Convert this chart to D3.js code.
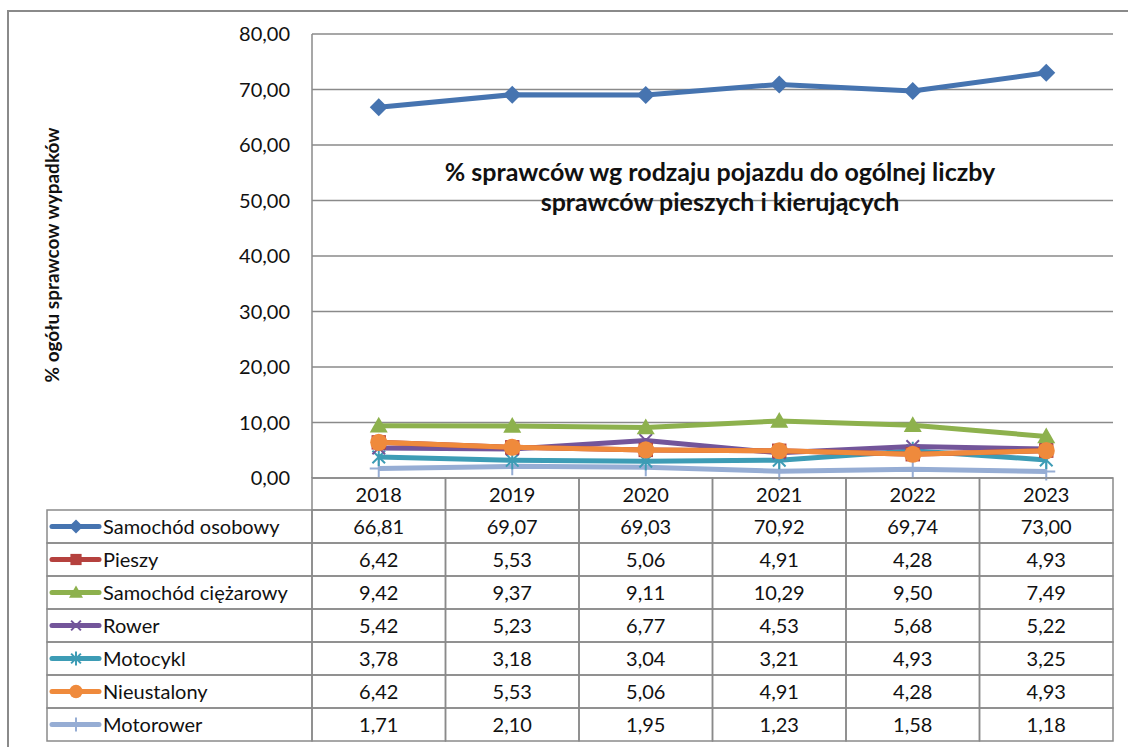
<!DOCTYPE html>
<head>
  <meta charset="utf-8">
  <script src="https://d3js.org/d3.v7.min.js"></script>
  <style>
    body { margin: 0; background: #fff; font-family: Lato, "Open Sans", sans-serif; }
    .grid line { stroke: #8a8a8a; stroke-width: 1.5px; }
    .cell { fill: none; stroke: #8a8a8a; stroke-width: 1.5px; }
    .val { font-size: 20px; fill: #111; }
  </style>
</head>
<body>
  <div id="vis"></div>
  <script>
    // ---- data ----
    var years = ["2018", "2019", "2020", "2021", "2022", "2023"];
    var seriesNames = ["Samochód osobowy", "Pieszy", "Samochód ciężarowy", "Rower", "Motocykl", "Nieustalony", "Motorower"];
    var osobowy = [66.81, 69.07, 69.03, 70.92, 69.74, 73.00];
    var pieszy = [6.42, 5.53, 5.06, 4.91, 4.28, 4.93];
    var ciezarowy = [9.42, 9.37, 9.11, 10.29, 9.50, 7.49];
    var rower = [5.42, 5.23, 6.77, 4.53, 5.68, 5.22];
    var motocykl = [3.78, 3.18, 3.04, 3.21, 4.93, 3.25];
    var nieustalony = [6.42, 5.53, 5.06, 4.91, 4.28, 4.93];
    var motorower = [1.71, 2.10, 1.95, 1.23, 1.58, 1.18];
    var yTicks = [0, 10, 20, 30, 40, 50, 60, 70, 80];

    var colors = ["#4674b0", "#b5413e", "#8db14d", "#73559a", "#3d9cb5", "#ef8a3c", "#96add4"];
    var markers = ["diamond", "square", "triangle", "x", "asterisk", "circle", "plus"];
    var allValues = [osobowy, pieszy, ciezarowy, rower, motocykl, nieustalony, motorower];

    var series = seriesNames.map(function (n, i) {
      return { name: n, values: allValues[i], color: colors[i], marker: markers[i] };
    });

    var fmt = function (v) { return v.toFixed(2).replace(".", ","); };

    var width = 1128, height = 747;
    var plot = { left: 312, right: 1113, top: 34, bottom: 478 };
    var tableLeft = 47, rowH = 33;

    var svg = d3.select("#vis").append("svg")
      .attr("width", width)
      .attr("height", height);

    // outer frame
    svg.append("rect")
      .attr("x", 8).attr("y", 11)
      .attr("width", 1130).attr("height", 750)
      .attr("fill", "none")
      .attr("stroke", "#8a8a8a")
      .attr("stroke-width", 2);

    var x = d3.scaleBand()
      .domain(years)
      .range([plot.left, plot.right]);

    var y = d3.scaleLinear()
      .domain([0, 80])
      .range([plot.bottom, plot.top]);

    // gridlines
    svg.append("g")
      .attr("class", "grid")
      .selectAll("line")
      .data(yTicks)
      .enter().append("line")
      .attr("x1", plot.left).attr("x2", plot.right)
      .attr("y1", function (d) { return y(d); })
      .attr("y2", function (d) { return y(d); });

    // y axis line
    svg.append("line")
      .attr("x1", plot.left).attr("x2", plot.left)
      .attr("y1", plot.top).attr("y2", plot.bottom)
      .attr("stroke", "#8a8a8a").attr("stroke-width", 1.5);

    // y tick labels
    svg.append("g")
      .selectAll("text")
      .data(yTicks)
      .enter().append("text")
      .attr("class", "val")
      .attr("x", 290)
      .attr("y", function (d) { return y(d); })
      .attr("dy", "0.35em")
      .attr("text-anchor", "end")
      .text(fmt);

    // y axis title
    svg.append("text")
      .attr("transform", "translate(59,255) rotate(-90)")
      .attr("text-anchor", "middle")
      .attr("font-weight", "bold")
      .attr("font-size", 19)
      .attr("fill", "#111")
      .text("% ogółu  sprawcow wypadków");

    // chart title
    var title = svg.append("text")
      .attr("text-anchor", "middle")
      .attr("font-weight", "bold")
      .attr("font-size", 25)
      .attr("fill", "#111");
    title.append("tspan").attr("x", 720).attr("y", 181)
      .text("% sprawców wg rodzaju pojazdu do ogólnej liczby");
    title.append("tspan").attr("x", 720).attr("y", 211)
      .text("sprawców pieszych i kierujących");

    // ---- markers ----
    function drawMarker(g, type, color, size) {
      var s = size;
      if (type === "diamond") {
        g.append("path").attr("d", "M0," + (-s) + "L" + s + ",0L0," + s + "L" + (-s) + ",0Z").attr("fill", color);
      } else if (type === "square") {
        g.append("rect").attr("x", -s * 0.8).attr("y", -s * 0.8).attr("width", s * 1.6).attr("height", s * 1.6).attr("fill", color);
      } else if (type === "triangle") {
        g.append("path").attr("d", "M0," + (-s) + "L" + s + "," + (s * 0.75) + "L" + (-s) + "," + (s * 0.75) + "Z").attr("fill", color);
      } else if (type === "circle") {
        g.append("circle").attr("r", s * 0.95).attr("fill", color);
      } else if (type === "x") {
        var a = s * 0.7;
        g.append("path").attr("d", "M" + (-a) + "," + (-a) + "L" + a + "," + a + "M" + a + "," + (-a) + "L" + (-a) + "," + a)
          .attr("stroke", color).attr("stroke-width", 2);
      } else if (type === "asterisk") {
        var b = s * 0.7;
        g.append("path").attr("d", "M" + (-b) + "," + (-b) + "L" + b + "," + b + "M" + b + "," + (-b) + "L" + (-b) + "," + b + "M0," + (-s) + "L0," + s)
          .attr("stroke", color).attr("stroke-width", 2);
      } else if (type === "plus") {
        g.append("path").attr("d", "M0," + (-s) + "L0," + s + "M" + (-s) + ",0L" + s + ",0")
          .attr("stroke", color).attr("stroke-width", 2);
      }
    }

    var line = d3.line()
      .x(function (d, i) { return x(years[i]) + x.bandwidth() / 2; })
      .y(function (d) { return y(d); });

    // draw order so that Nieustalony sits over Pieszy
    var drawOrder = [6, 4, 3, 2, 1, 5, 0];
    drawOrder.forEach(function (si) {
      var s = series[si];
      var g = svg.append("g");
      g.append("path")
        .datum(s.values)
        .attr("d", line)
        .attr("fill", "none")
        .attr("stroke", s.color)
        .attr("stroke-width", 5)
        .attr("stroke-linejoin", "round");
      s.values.forEach(function (v, i) {
        var mg = g.append("g")
          .attr("transform", "translate(" + (x(years[i]) + x.bandwidth() / 2) + "," + y(v) + ")");
        drawMarker(mg, s.marker, s.color, 9);
      });
    });

    // ---- data table ----
    var table = svg.append("g");

    // header row (years)
    table.selectAll(".hdr")
      .data(years)
      .enter().append("rect")
      .attr("class", "cell")
      .attr("x", function (d) { return x(d); })
      .attr("y", plot.bottom)
      .attr("width", x.bandwidth())
      .attr("height", 32);

    table.selectAll(".hdrtxt")
      .data(years)
      .enter().append("text")
      .attr("class", "val")
      .attr("x", function (d) { return x(d) + x.bandwidth() / 2; })
      .attr("y", plot.bottom + 17)
      .attr("dy", "0.35em")
      .attr("text-anchor", "middle")
      .text(function (d) { return d; });

    var rowTop = plot.bottom + 32;
    series.forEach(function (s, r) {
      var ry = rowTop + r * rowH;
      table.append("rect")
        .attr("class", "cell")
        .attr("x", tableLeft).attr("y", ry)
        .attr("width", plot.left - tableLeft).attr("height", rowH);

      // legend key
      var ky = ry + rowH / 2;
      table.append("line")
        .attr("x1", 52).attr("x2", 99)
        .attr("y1", ky).attr("y2", ky)
        .attr("stroke", s.color).attr("stroke-width", 5)
        .attr("stroke-linecap", "round");
      var kg = table.append("g").attr("transform", "translate(76," + ky + ")");
      drawMarker(kg, s.marker, s.color, 7);

      table.append("text")
        .attr("class", "val")
        .attr("x", 103).attr("y", ky)
        .attr("dy", "0.35em")
        .text(s.name);

      s.values.forEach(function (v, i) {
        table.append("rect")
          .attr("class", "cell")
          .attr("x", x(years[i])).attr("y", ry)
          .attr("width", x.bandwidth()).attr("height", rowH);
        table.append("text")
          .attr("class", "val")
          .attr("x", x(years[i]) + x.bandwidth() / 2)
          .attr("y", ky)
          .attr("dy", "0.35em")
          .attr("text-anchor", "middle")
          .text(fmt(v));
      });
    });
  </script>
</body>
